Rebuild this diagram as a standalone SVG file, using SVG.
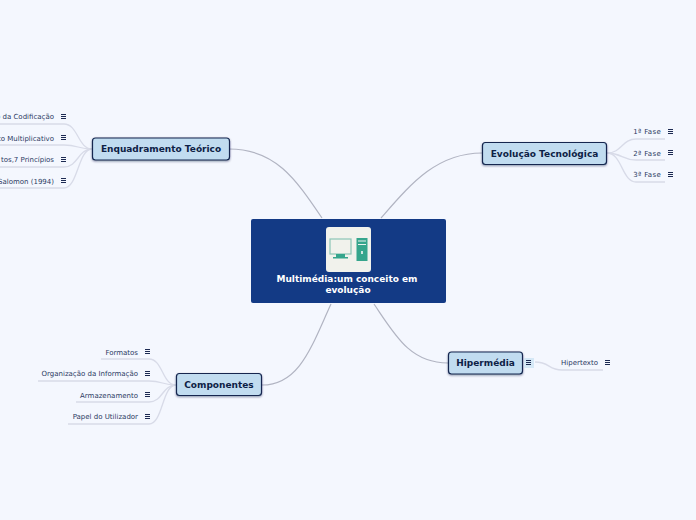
<svg xmlns="http://www.w3.org/2000/svg" width="696" height="520" viewBox="0 0 696 520">
<defs>
<filter id="sh" x="-10%" y="-20%" width="120%" height="150%"><feDropShadow dx="0" dy="1" stdDeviation="0.8" flood-color="#0b1c3f" flood-opacity="0.45"/></filter>
<g id="menu"><path d="M0 0.5h5M0 2.5h5M0 4.5h5" stroke="#1c2a52" stroke-width="1" fill="none"/></g>
</defs>
<style>
text{font-family:"DejaVu Sans",Verdana,sans-serif}
.main{fill:none;stroke:#b1b4c2;stroke-width:1.2}
.sub{fill:none;stroke:#d8dbe8;stroke-width:1.3}
.box{fill:#c1dcf0;stroke:#12264f;stroke-width:1.2;filter:url(#sh)}
.t{font-size:9px;font-weight:700;fill:#0d2145;text-anchor:middle}
.l{font-size:7px;fill:#2b3a63;text-anchor:end}
.f{letter-spacing:0.3px}
.c{font-size:9px;font-weight:700;fill:#fff;text-anchor:middle}
</style>
<rect width="696" height="520" fill="#f4f7fe"/>
<g id="connectors">
<path class="main" d="M229 149C275 149 295 178 322 218"/>
<path class="main" d="M482 153C436 153 410 185 381 218"/>
<path class="main" d="M262 385C300 385 312 345 331 304"/>
<path class="main" d="M448 363C410 363 395 335 374 304"/>
<path class="sub" d="M92 149C78 149 78 124 64 124H-1"/>
<path class="sub" d="M92 149C78 149 78 145 64 145H-1"/>
<path class="sub" d="M92 149C78 149 78 167 64 167H-1"/>
<path class="sub" d="M92 149C78 149 78 188 64 188H-1"/>
<path class="sub" d="M607 153C622 153 622 139 636 139H665"/>
<path class="sub" d="M607 153C622 153 622 160 636 160H665"/>
<path class="sub" d="M607 153C622 153 622 182 636 182H665"/>
<path class="sub" d="M535 362C550 362 548 370 562 370H603"/>
<path class="sub" d="M176 385C162 385 163 359 149 359H101"/>
<path class="sub" d="M176 385C162 385 163 381 149 381H38"/>
<path class="sub" d="M176 385C162 385 163 402 149 402H76"/>
<path class="sub" d="M176 385C162 385 163 424 149 424H68"/>
</g>
<g id="central">
<rect x="251" y="219" width="195" height="84" rx="2" fill="#133a85"/>
<rect x="326" y="227" width="45" height="45" rx="3" fill="#f1f2ec"/>
<rect x="330" y="239" width="21" height="15" fill="#f1f2ec" stroke="#8cc5b6" stroke-width="1.2"/>
<path d="M336 254h9v3h3v1.500h-15V257h3z" fill="#35a58c"/>
<rect x="356.500" y="238" width="11" height="23" fill="#35a58c"/>
<path d="M358 241h8M358 244.500h8" stroke="#e8f2ee" stroke-width="1.200"/>
<rect x="361" y="251" width="2" height="3" fill="#cfe7df"/>
<text class="c" x="347" y="282">Multimédia:um conceito em</text>
<text class="c" x="348" y="293">evolução</text>
</g>
<g id="n-enquadramento">
<rect class="box" x="92.500" y="138" width="137" height="22" rx="3"/>
<text class="t" x="161" y="152">Enquadramento Teórico</text>
</g>
<g id="n-evolucao">
<rect class="box" x="482.500" y="142.500" width="124" height="22" rx="3"/>
<text class="t" x="544.500" y="157">Evolução Tecnológica</text>
</g>
<g id="n-hipermedia">
<rect class="box" x="448.500" y="352" width="74" height="22" rx="3"/>
<text class="t" x="485.500" y="366">Hipermédia</text>
<rect x="524" y="358" width="10" height="10" fill="#d5e8f6"/>
<use href="#menu" x="526" y="360"/>
</g>
<g id="n-componentes">
<rect class="box" x="176.500" y="373.500" width="85" height="22" rx="3"/>
<text class="t" x="219" y="388">Componentes</text>
</g>
<g id="l-codificacao"><text class="l" x="54" y="119">o da Codificação</text><use href="#menu" x="61" y="114"/></g>
<g id="l-multiplicativo"><text class="l" x="54" y="141">to Multiplicativo</text><use href="#menu" x="61" y="135"/></g>
<g id="l-principios"><text class="l" x="54" y="162">tos,7 Princípios</text><use href="#menu" x="61" y="157"/></g>
<g id="l-salomon"><text class="l" x="54" y="184">Salomon (1994)</text><use href="#menu" x="61" y="178"/></g>
<g id="l-fase1"><text class="l f" x="661" y="134">1ª Fase</text><use href="#menu" x="668" y="129"/></g>
<g id="l-fase2"><text class="l f" x="661" y="156">2ª Fase</text><use href="#menu" x="668" y="150"/></g>
<g id="l-fase3"><text class="l f" x="661" y="177">3ª Fase</text><use href="#menu" x="668" y="172"/></g>
<g id="l-hipertexto"><text class="l" x="598" y="365">Hipertexto</text><use href="#menu" x="605" y="360"/></g>
<g id="l-formatos"><text class="l" x="138" y="355">Formatos</text><use href="#menu" x="145" y="349"/></g>
<g id="l-organizacao"><text class="l" x="138" y="376">Organização da Informação</text><use href="#menu" x="145" y="371"/></g>
<g id="l-armazenamento"><text class="l" x="138" y="398">Armazenamento</text><use href="#menu" x="145" y="392"/></g>
<g id="l-papel"><text class="l" x="138" y="419">Papel do Utilizador</text><use href="#menu" x="145" y="414"/></g>
</svg>
